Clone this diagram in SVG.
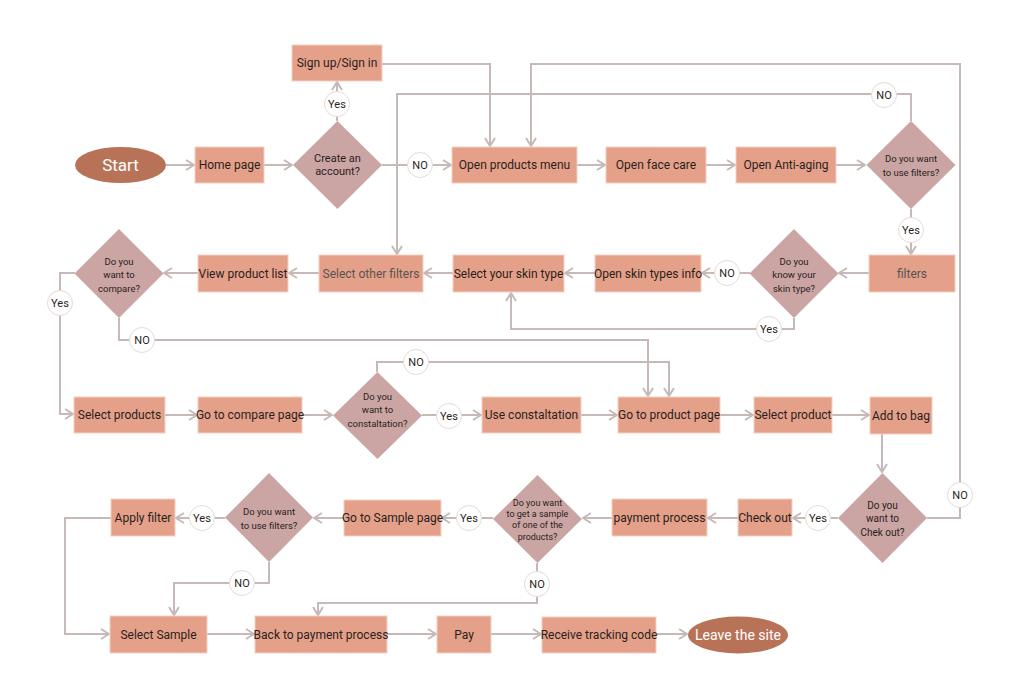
<svg xmlns="http://www.w3.org/2000/svg" width="1024" height="697" viewBox="0 0 1024 697">
<style>
.box{fill:#E4A089;stroke:#F3CFC2;stroke-width:1}
.dia{fill:#CBA5A3}
.ell{fill:#B87258}
.t{font-family:Roboto,"Liberation Sans",sans-serif;font-size:12px;fill:#2a1f1d;text-anchor:middle;dominant-baseline:central}
.g{fill:#555}
.d{font-family:Roboto,"Liberation Sans",sans-serif;font-size:9.5px;fill:#2a1f1d;text-anchor:middle;dominant-baseline:central}
.d11{font-size:11px}
.d10{font-size:10px}
.d9{font-size:9px}
.w{font-family:Roboto,"Liberation Sans",sans-serif;fill:#fff;text-anchor:middle;dominant-baseline:central}
.c{fill:#fff;stroke:#E2DBDA;stroke-width:1}
.ct{font-family:Roboto,"Liberation Sans",sans-serif;font-size:11px;fill:#2a1f1d;text-anchor:middle;dominant-baseline:central}
.arr{fill:none;stroke:#C6B9B7;stroke-width:2;marker-end:url(#ah)}
</style>
<defs>
<marker id="ah" viewBox="0 0 10 12" refX="9" refY="6" markerWidth="10" markerHeight="12" markerUnits="userSpaceOnUse" orient="auto">
<path d="M1,1 L9,6 L1,11" fill="none" stroke="#C6B9B7" stroke-width="2"/>
</marker>
</defs>
<rect width="1024" height="697" fill="#fff"/>
<g id="connectors">
<path class="arr" d="M166,165 H194"/>
<path class="arr" d="M264,165 H292"/>
<path class="arr" d="M337,121 V82"/>
<path class="arr" d="M382,165 H451"/>
<path class="arr" d="M382,64 H490 V146"/>
<path class="arr" d="M577,165 H605"/>
<path class="arr" d="M706,165 H735"/>
<path class="arr" d="M836,165 H865"/>
<path class="arr" d="M911,209 V254"/>
<path class="arr" d="M911,121 V94 H397 V254"/>
<path class="arr" d="M869,273 H839"/>
<path class="arr" d="M750,273 H702"/>
<path class="arr" d="M794,318 V329 H511 V293"/>
<path class="arr" d="M595,273 H565"/>
<path class="arr" d="M453,273 H424"/>
<path class="arr" d="M319,273 H289"/>
<path class="arr" d="M198,273 H164"/>
<path class="arr" d="M75,273 H60 V414 H73"/>
<path class="arr" d="M119,318 V340 H648 V396"/>
<path class="arr" d="M165,415 H197"/>
<path class="arr" d="M302,415 H332"/>
<path class="arr" d="M422,415 H481"/>
<path class="arr" d="M377,372 V362 H669 V396"/>
<path class="arr" d="M581,415 H617"/>
<path class="arr" d="M720,415 H753"/>
<path class="arr" d="M832,415 H869"/>
<path class="arr" d="M882,434 V472"/>
<path class="arr" d="M927,518 H960 V64 H531 V146"/>
<path class="arr" d="M838,518 H793"/>
<path class="arr" d="M738,518 H708"/>
<path class="arr" d="M612,518 H583"/>
<path class="arr" d="M493,518 H442"/>
<path class="arr" d="M344,518 H314"/>
<path class="arr" d="M225,518 H176"/>
<path class="arr" d="M111,518 H65 V634 H109"/>
<path class="arr" d="M269,562 V583 H174 V615"/>
<path class="arr" d="M537,563 V603 H318 V615"/>
<path class="arr" d="M207,634 H254"/>
<path class="arr" d="M387,634 H436"/>
<path class="arr" d="M491,634 H541"/>
<path class="arr" d="M656,634 H687"/>
</g>
<g id="labels">
<circle class="c" cx="337" cy="104" r="12.5"/><text class="ct" x="337" y="104">Yes</text>
<circle class="c" cx="420" cy="165" r="12.5"/><text class="ct" x="420" y="165">NO</text>
<circle class="c" cx="884" cy="95" r="12.5"/><text class="ct" x="884" y="95">NO</text>
<circle class="c" cx="911" cy="230" r="12.5"/><text class="ct" x="911" y="230">Yes</text>
<circle class="c" cx="727" cy="273" r="12.5"/><text class="ct" x="727" y="273">NO</text>
<circle class="c" cx="769" cy="329" r="12.5"/><text class="ct" x="769" y="329">Yes</text>
<circle class="c" cx="60" cy="303" r="12.5"/><text class="ct" x="60" y="303">Yes</text>
<circle class="c" cx="142" cy="340" r="12.5"/><text class="ct" x="142" y="340">NO</text>
<circle class="c" cx="416" cy="362" r="12.5"/><text class="ct" x="416" y="362">NO</text>
<circle class="c" cx="449" cy="416" r="12.5"/><text class="ct" x="449" y="416">Yes</text>
<circle class="c" cx="960" cy="495" r="12.5"/><text class="ct" x="960" y="495">NO</text>
<circle class="c" cx="818" cy="518" r="12.5"/><text class="ct" x="818" y="518">Yes</text>
<circle class="c" cx="469" cy="518" r="12.5"/><text class="ct" x="469" y="518">Yes</text>
<circle class="c" cx="202" cy="518" r="12.5"/><text class="ct" x="202" y="518">Yes</text>
<circle class="c" cx="242" cy="583" r="12.5"/><text class="ct" x="242" y="583">NO</text>
<circle class="c" cx="537" cy="584" r="12.5"/><text class="ct" x="537" y="584">NO</text>
</g>
<g id="start"><ellipse class="ell" cx="120.5" cy="165" rx="45.5" ry="18"/><text class="w" x="120.5" y="165" font-size="17">Start</text></g>
<g id="home"><rect class="box" x="195" y="147" width="69" height="36"/><text class="t" x="229.5" y="165">Home page</text></g>
<g id="create"><polygon class="dia" points="337.5,121 382,165 337.5,209 293,165"/><text class="d d11" x="337.5" y="158.5">Create an</text><text class="d d11" x="337.5" y="171.5">account?</text></g>
<g id="signup"><rect class="box" x="292" y="45" width="90" height="36"/><text class="t" x="337" y="63">Sign up/Sign in</text></g>
<g id="products"><rect class="box" x="452" y="147" width="125" height="36"/><text class="t" x="514.5" y="165">Open products menu</text></g>
<g id="facecare"><rect class="box" x="606" y="147" width="100" height="36"/><text class="t" x="656" y="165">Open face care</text></g>
<g id="antiaging"><rect class="box" x="736" y="147" width="100" height="36"/><text class="t" x="786" y="165">Open Anti-aging</text></g>
<g id="usefilters"><polygon class="dia" points="911,121 955.5,165 911,209 866.5,165"/><text class="d" x="911" y="158">Do you want</text><text class="d" x="911" y="172">to use filters?</text></g>
<g id="filters"><rect class="box" x="869" y="255" width="86" height="37"/><text class="t g" x="912" y="273.5">filters</text></g>
<g id="knowskin"><polygon class="dia" points="794,229 838.5,273.5 794,318 749.5,273.5"/><text class="d" x="794" y="261">Do you</text><text class="d" x="794" y="274.5">know your</text><text class="d" x="794" y="288">skin type?</text></g>
<g id="skininfo"><rect class="box" x="595" y="255" width="106" height="37"/><text class="t" x="648" y="273.5">Open skin types info</text></g>
<g id="skintype"><rect class="box" x="453" y="255" width="111" height="37"/><text class="t" x="508.5" y="273.5">Select your skin type</text></g>
<g id="otherfilters"><rect class="box" x="319" y="255" width="104" height="37"/><text class="t g" x="371" y="273.5">Select other filters</text></g>
<g id="productlist"><rect class="box" x="198" y="255" width="90" height="37"/><text class="t" x="243" y="273.5">View product list</text></g>
<g id="compare"><polygon class="dia" points="119,229 163.5,273.5 119,318 74.5,273.5"/><text class="d" x="119" y="261">Do you</text><text class="d" x="119" y="274.5">want to</text><text class="d" x="119" y="288">compare?</text></g>
<g id="selectproducts"><rect class="box" x="74" y="397" width="91" height="36"/><text class="t" x="119.5" y="415">Select products</text></g>
<g id="comparepage"><rect class="box" x="198" y="397" width="104" height="36"/><text class="t" x="250" y="415">Go to compare page</text></g>
<g id="consult"><polygon class="dia" points="377.5,372 422,415.5 377.5,459 333,415.5"/><text class="d" x="377.5" y="396">Do you</text><text class="d" x="377.5" y="409.5">want to</text><text class="d" x="377.5" y="423">constaltation?</text></g>
<g id="useconsult"><rect class="box" x="482" y="397" width="99" height="36"/><text class="t" x="531.5" y="415">Use constaltation</text></g>
<g id="productpage"><rect class="box" x="618" y="397" width="102" height="36"/><text class="t" x="669" y="415">Go to product page</text></g>
<g id="selectproduct"><rect class="box" x="754" y="397" width="78" height="36"/><text class="t" x="793" y="415">Select product</text></g>
<g id="addbag"><rect class="box" x="870" y="397" width="62" height="37"/><text class="t" x="901" y="416">Add to bag</text></g>
<g id="checkoutq"><polygon class="dia" points="882.5,473 927,518 882.5,563 838,518"/><text class="d d10" x="882.5" y="505">Do you</text><text class="d d10" x="882.5" y="518.5">want to</text><text class="d d10" x="882.5" y="532">Chek out?</text></g>
<g id="checkout"><rect class="box" x="738" y="499" width="54" height="37"/><text class="t" x="765" y="517.5">Check out</text></g>
<g id="payment"><rect class="box" x="612" y="499" width="95" height="37"/><text class="t" x="659.5" y="517.5">payment process</text></g>
<g id="sampleq"><polygon class="dia" points="537.5,475 582,519 537.5,563 493,519"/><text class="d d9" x="537.5" y="502.5">Do you want</text><text class="d d9" x="537.5" y="514">to get a sample</text><text class="d d9" x="537.5" y="525">of one of the</text><text class="d d9" x="537.5" y="536.5">products?</text></g>
<g id="samplepage"><rect class="box" x="344" y="500" width="97" height="36"/><text class="t" x="392.5" y="518">Go to Sample page</text></g>
<g id="usefilters2"><polygon class="dia" points="269,473 313,517.5 269,562 225,517.5"/><text class="d" x="269" y="511">Do you want</text><text class="d" x="269" y="525">to use filters?</text></g>
<g id="applyfilter"><rect class="box" x="111" y="499" width="64" height="37"/><text class="t" x="143" y="517.5">Apply filter</text></g>
<g id="selectsample"><rect class="box" x="110" y="616" width="97" height="37"/><text class="t" x="158.5" y="634.5">Select Sample</text></g>
<g id="backpayment"><rect class="box" x="255" y="616" width="132" height="37"/><text class="t" x="321" y="634.5">Back to payment process</text></g>
<g id="pay"><rect class="box" x="437" y="616" width="54" height="37"/><text class="t" x="464" y="634.5">Pay</text></g>
<g id="tracking"><rect class="box" x="542" y="617" width="114" height="36"/><text class="t" x="599" y="635">Receive tracking code</text></g>
<g id="leave"><ellipse class="ell" cx="738" cy="635" rx="50" ry="18.5"/><text class="w" x="738" y="635" font-size="14">Leave the site</text></g>
</svg>
